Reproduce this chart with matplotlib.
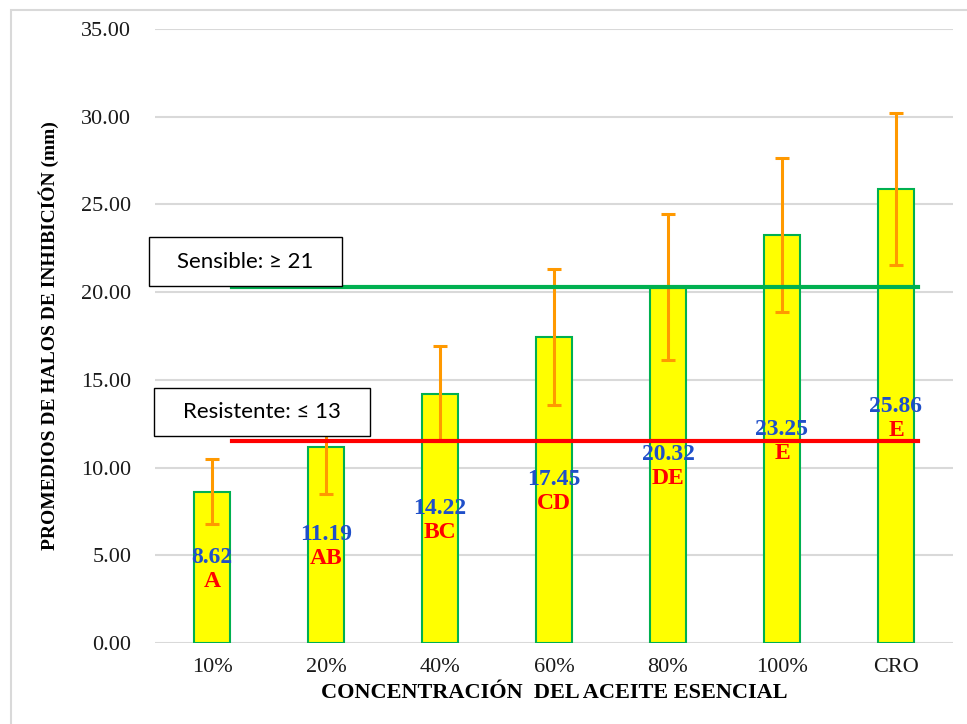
import matplotlib
matplotlib.use("Agg")
import matplotlib.pyplot as plt
from matplotlib.patches import Rectangle

# datos
concentraciones = ["10%", "20%", "40%", "60%", "80%", "100%", "CRO"]
promedios = [8.62, 11.19, 14.22, 17.45, 20.32, 23.25, 25.86]
desviacion = [1.85, 2.70, 2.71, 3.86, 4.16, 4.38, 4.33]
letras = ["A", "AB", "BC", "CD", "DE", "E", "E"]
linea_sensible = 20.3
linea_resistente = 11.5

W, H = 967, 724
fig = plt.figure(figsize=(W / 100, H / 100), dpi=100)
ax = fig.add_axes([155 / W, 1 - 643 / H, 798 / W, 614 / H])

x = list(range(len(concentraciones)))
ax.bar(x, promedios, width=0.32, color="#FFFF00", edgecolor="#00B050",
       linewidth=1.5, zorder=2)
ax.errorbar(x, promedios, yerr=desviacion, fmt="none", ecolor="#FF9900",
            elinewidth=2.2, capsize=5, capthick=2.2, zorder=3)

# etiquetas de cada barra: promedio y letra
for xi, v, l in zip(x, promedios, letras):
    ax.annotate(f"{v:.2f}", (xi, v / 2), xytext=(0, 10), textcoords="offset pixels",
                ha="center", va="center", color="#1F4FC9", fontsize=17,
                fontweight="bold", family="Liberation Serif", zorder=5)
    ax.annotate(l, (xi, v / 2), xytext=(0, -14), textcoords="offset pixels",
                ha="center", va="center", color="#FF0000", fontsize=17,
                fontweight="bold", family="Liberation Serif", zorder=5)

# lineas de referencia
ax.plot([0.175, 6.19], [linea_sensible] * 2, color="#00B050", lw=3, zorder=4)
ax.plot([0.175, 6.19], [linea_resistente] * 2, color="#FF0000", lw=3, zorder=4)

ax.set_xlim(-0.5, 6.5)
ax.set_ylim(0, 35)
ax.set_yticks(range(0, 36, 5))
ax.set_yticklabels([f"{t:.2f}" for t in range(0, 36, 5)])
ax.set_xticks(x)
ax.set_xticklabels(concentraciones)
ax.tick_params(length=0, labelsize=16, colors="#1A1A1A")
ax.tick_params(axis="y", pad=17)
ax.tick_params(axis="x", pad=11)
for lab in ax.get_xticklabels() + ax.get_yticklabels():
    lab.set_family("Liberation Serif")
ax.grid(axis="y", color="#D9D9D9", lw=1.5, zorder=0)
ax.set_axisbelow(True)
for s in ax.spines.values():
    s.set_visible(False)

ax.set_xlabel("CONCENTRACIÓN  DEL ACEITE ESENCIAL", fontsize=16, fontweight="bold",
              family="Liberation Serif", labelpad=4)
ax.set_ylabel("PROMEDIOS DE HALOS DE INHIBICIÓN (mm)", fontsize=14, fontweight="bold",
              family="Liberation Serif", labelpad=16)

# cuadros de texto
def cuadro(x0, y0, x1, y1, texto):
    fig.patches.append(Rectangle((x0 / W, 1 - y1 / H), (x1 - x0) / W, (y1 - y0) / H,
                                 transform=fig.transFigure, facecolor="white",
                                 edgecolor="black", lw=1, zorder=6))
    fig.text((x0 + x1) / 2 / W, 1 - (y0 + y1) / 2 / H, texto, ha="center", va="center",
             fontsize=16, family="Lato", zorder=7)

cuadro(149, 237, 342, 286, "Sensible: ≥ 21")
cuadro(154, 388, 370, 436, "Resistente: ≤ 13")

# borde del grafico
fig.patches.append(Rectangle((11 / W, -0.1), 1.2, 1 - 10 / H + 0.1,
                             transform=fig.transFigure, facecolor="none",
                             edgecolor="#D9D9D9", lw=1.5))

fig.savefig("out.png", dpi=100)
